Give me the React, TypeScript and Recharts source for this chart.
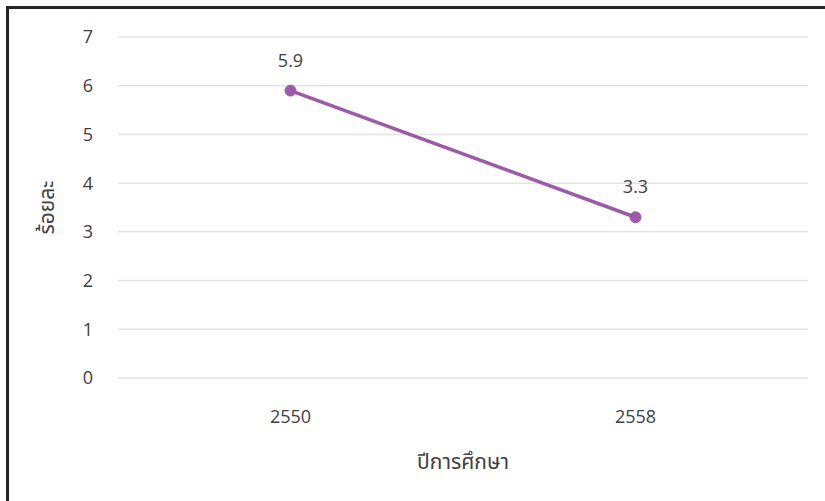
import { LineChart, Line, XAxis, YAxis, CartesianGrid, LabelList } from "recharts";

const years = ["2550", "2558"];
const percent = [5.9, 3.3];
const yTicks = [0, 1, 2, 3, 4, 5, 6, 7];

const data = years.map((y, i) => ({ year: y, value: percent[i] }));

const font = "'Open Sans', 'Noto Sans', 'Noto Sans Thai', sans-serif";
const textColor = "#404040";

export default function App() {
  return (
    <div style={{ position: "absolute", left: 0, top: 0, width: 825, height: 501, background: "#fff" }}>
      <div
        style={{
          position: "absolute",
          left: 6,
          top: 6,
          right: 0,
          bottom: 0,
          borderTop: "3px solid #262626",
          borderLeft: "3px solid #262626",
        }}
      />
      <div style={{ position: "absolute", left: 0, top: 0 }}>
        <LineChart
          width={825}
          height={501}
          data={data}
          margin={{ top: 37, right: 17, bottom: 23, left: 0 }}
          style={{ fontFamily: font }}
        >
          <CartesianGrid vertical={false} stroke="#e3e3e3" strokeWidth={1.5} />
          <XAxis
            dataKey="year"
            scale="band"
            axisLine={false}
            tickLine={false}
            height={100}
            tickMargin={26}
            tick={{ fill: textColor, fontSize: 18 }}
            label={{
              value: "ปีการศึกษา",
              position: "insideBottom",
              offset: 9,
              fill: textColor,
              fontSize: 21,
            }}
          />
          <YAxis
            width={118}
            domain={[0, 7]}
            ticks={yTicks}
            axisLine={false}
            tickLine={false}
            tickMargin={19}
            tick={{ fill: textColor, fontSize: 18 }}
            label={{
              value: "ร้อยละ",
              angle: -90,
              position: "insideLeft",
              offset: 47,
              fill: textColor,
              fontSize: 21,
              style: { textAnchor: "middle" },
            }}
          />
          <Line
            type="linear"
            dataKey="value"
            stroke="#9c5ba9"
            strokeWidth={3.5}
            dot={{ r: 5.5, fill: "#9c5ba9", stroke: "#9c5ba9", strokeWidth: 1 }}
            isAnimationActive={false}
          >
            <LabelList dataKey="value" position="top" offset={24} fill={textColor} fontSize={18} />
          </Line>
        </LineChart>
      </div>
    </div>
  );
}
